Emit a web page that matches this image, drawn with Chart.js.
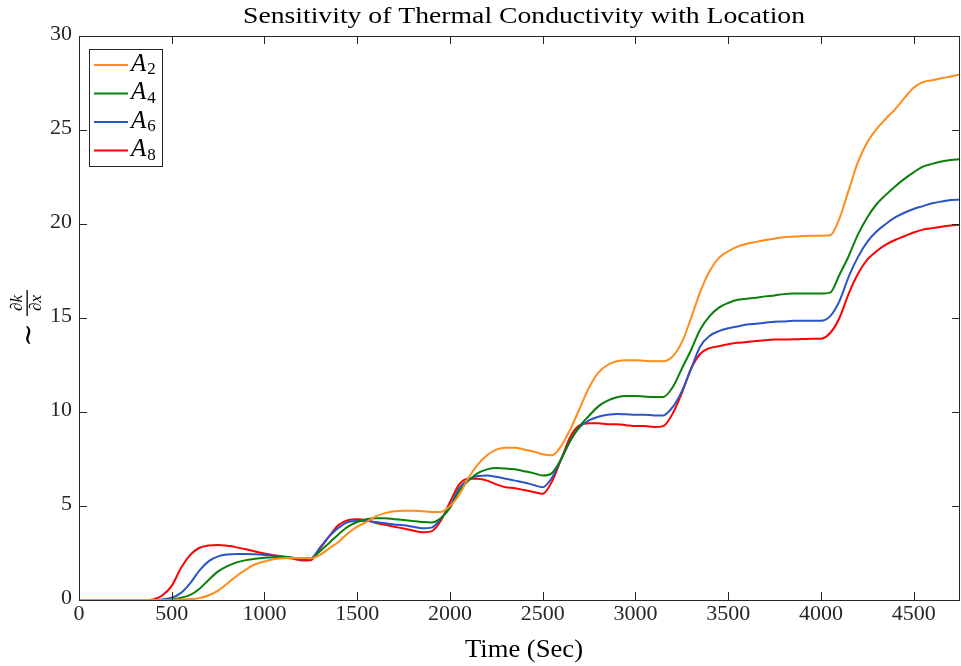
<!DOCTYPE html>
<html>
<head>
<meta charset="utf-8">
<script src="https://cdn.jsdelivr.net/npm/chart.js@4"></script>
<style>
  html, body { margin: 0; padding: 0; background: #fff; }
  #grafico { display: block; }
</style>
</head>
<body>
<canvas id="grafico" width="961" height="666"></canvas>
<script>
// DADOS (um valor a cada 50 s, de 0 a 4750 s)
var tempo = [];
for (var t = 0; t <= 4750; t += 50) tempo.push(t);

var nomes = ['A\u2082', 'A\u2084', 'A\u2086', 'A\u2088'];
var subscritos = ['2', '4', '6', '8'];
var cores = ['#ff8c1a', '#0a800a', '#2a55c8', '#ff0000'];

var serieA2 = [
    0, 0, 0, 0, 0, 0, 0, 0, 0, 0,
    0.01, 0.03, 0.05, 0.1, 0.25, 0.5, 0.88, 1.28, 1.62, 1.9,
    2.05, 2.17, 2.22, 2.24, 2.24, 2.22, 2.4, 2.75, 3.1, 3.55,
    3.9, 4.15, 4.45, 4.62, 4.72, 4.75, 4.75, 4.72, 4.68, 4.68,
    5.0, 5.6, 6.5, 7.2, 7.7, 8.0, 8.1, 8.1, 8.0, 7.9,
    7.75, 7.7, 8.2, 9.1, 10.2, 11.3, 12.1, 12.5, 12.7, 12.75,
    12.75, 12.72, 12.7, 12.7, 12.95, 13.7, 15.0, 16.4, 17.5, 18.2,
    18.55, 18.8, 18.95, 19.05, 19.15, 19.22, 19.3, 19.33, 19.36, 19.38,
    19.38, 19.4, 20.3, 21.8, 23.3, 24.35, 25.05, 25.6, 26.1, 26.7,
    27.25, 27.55, 27.65, 27.75, 27.85, 27.95];

var serieA4 = [
    0, 0, 0, 0, 0, 0, 0, 0, 0, 0,
    0.03, 0.12, 0.27, 0.6, 1.08, 1.52, 1.8, 2.0, 2.12, 2.2,
    2.25, 2.27, 2.27, 2.25, 2.22, 2.2, 2.6, 3.05, 3.5, 3.9,
    4.15, 4.3, 4.35, 4.35, 4.3, 4.25, 4.2, 4.15, 4.12, 4.35,
    4.9, 5.8, 6.35, 6.75, 6.95, 7.02, 7.0, 6.95, 6.85, 6.75,
    6.62, 6.75, 7.5, 8.5, 9.25, 9.8, 10.3, 10.6, 10.78, 10.85,
    10.85, 10.82, 10.8, 10.8, 11.3, 12.3, 13.3, 14.4, 15.1, 15.55,
    15.8, 15.97, 16.03, 16.08, 16.15, 16.2, 16.27, 16.3, 16.3, 16.3,
    16.3, 16.35, 17.3, 18.3, 19.45, 20.35, 21.05, 21.55, 22.0, 22.4,
    22.75, 23.05, 23.2, 23.32, 23.4, 23.45];

var serieA6 = [
    0, 0, 0, 0, 0, 0, 0, 0, 0, 0.03,
    0.12, 0.38, 0.9, 1.58, 2.07, 2.32, 2.42, 2.45, 2.45, 2.43,
    2.4, 2.36, 2.32, 2.25, 2.15, 2.2, 2.8, 3.4, 3.85, 4.15,
    4.2, 4.2, 4.15, 4.08, 4.02, 3.98, 3.9, 3.82, 3.85, 4.3,
    5.0, 5.95, 6.4, 6.6, 6.62, 6.55, 6.45, 6.35, 6.25, 6.12,
    6.0, 6.5, 7.5, 8.5, 9.2, 9.55, 9.75, 9.85, 9.9, 9.88,
    9.85, 9.85, 9.82, 9.82, 10.25, 11.1, 12.3, 13.5, 14.05, 14.3,
    14.45, 14.55, 14.65, 14.7, 14.75, 14.8, 14.82, 14.85, 14.85, 14.85,
    14.85, 15.1, 15.9, 17.2, 18.25, 19.05, 19.6, 20.0, 20.35, 20.6,
    20.8, 20.95, 21.1, 21.2, 21.28, 21.3];

var serieA8 = [
    0, 0, 0, 0, 0, 0, 0, 0, 0.03, 0.25,
    0.75, 1.7, 2.4, 2.78, 2.9, 2.93, 2.88, 2.8, 2.7, 2.58,
    2.47, 2.38, 2.3, 2.2, 2.1, 2.12, 2.75, 3.4, 4.0, 4.25,
    4.3, 4.25, 4.1, 4.0, 3.9, 3.8, 3.7, 3.6, 3.65, 4.2,
    5.2, 6.15, 6.45, 6.45, 6.35, 6.15, 6.0, 5.95, 5.85, 5.75,
    5.65, 6.3, 7.5, 8.7, 9.3, 9.4, 9.4, 9.35, 9.35, 9.3,
    9.25, 9.25, 9.2, 9.25, 9.9, 11.0, 12.3, 13.1, 13.4, 13.5,
    13.6, 13.68, 13.72, 13.78, 13.82, 13.85, 13.85, 13.87, 13.88, 13.9,
    13.9, 14.2, 15.0, 16.3, 17.35, 18.1, 18.55, 18.9, 19.15, 19.35,
    19.55, 19.7, 19.78, 19.85, 19.92, 19.95];

var ticksX = [0, 500, 1000, 1500, 2000, 2500, 3000, 3500, 4000, 4500];
var ticksY = [0, 5, 10, 15, 20, 25, 30];

var titulo = 'Sensitivity of Thermal Conductivity with Location';
var rotuloX = 'Time (Sec)';

var fonte = '"Liberation Serif", "DejaVu Serif", serif';

function pontos(valores) {
    return tempo.map(function (x, i) { return { x: x, y: valores[i] }; });
}

var series = [serieA2, serieA4, serieA6, serieA8];
var datasets = series.map(function (s, i) {
    return {
        label: nomes[i],
        data: pontos(s),
        borderColor: cores[i],
        backgroundColor: cores[i],
        borderWidth: 2,
        pointRadius: 0,
        cubicInterpolationMode: 'monotone'
    };
});

// texto esticado na horizontal (a fonte do original e mais larga)
function textoLargo(ctx, txt, x, y, largura) {
    var w = ctx.measureText(txt).width;
    ctx.save();
    ctx.translate(x, y);
    ctx.scale(largura / w, 1);
    ctx.textAlign = 'center';
    ctx.fillText(txt, 0, 0);
    ctx.restore();
}

// desenha caixa, ticks para dentro, titulo, rotulos e legenda
var estiloMatlab = {
    id: 'estiloMatlab',
    afterDraw: function (chart) {
        var ctx = chart.ctx;
        var area = chart.chartArea;
        var sx = chart.scales.x;
        var sy = chart.scales.y;
        ctx.save();

        // caixa
        ctx.strokeStyle = '#262626';
        ctx.lineWidth = 1;
        ctx.strokeRect(Math.round(area.left) + 0.5, Math.round(area.top) + 0.5,
            Math.round(area.right - area.left) - 1, Math.round(area.bottom - area.top));

        // ticks
        var tam = 8;
        ctx.beginPath();
        ticksX.forEach(function (v) {
            var px = Math.round(sx.getPixelForValue(v)) + 0.5;
            ctx.moveTo(px, area.bottom); ctx.lineTo(px, area.bottom - tam);
            ctx.moveTo(px, area.top); ctx.lineTo(px, area.top + tam);
        });
        ticksY.forEach(function (v) {
            var py = Math.round(sy.getPixelForValue(v)) + 0.5;
            ctx.moveTo(area.left, py); ctx.lineTo(area.left + tam, py);
            ctx.moveTo(area.right, py); ctx.lineTo(area.right - tam, py);
        });
        ctx.stroke();

        // rotulos dos ticks
        ctx.fillStyle = '#262626';
        ctx.font = '22px ' + fonte;
        ctx.textAlign = 'center';
        ctx.textBaseline = 'middle';
        ticksX.forEach(function (v) {
            ctx.fillText(String(v), sx.getPixelForValue(v), area.bottom + 14);
        });
        ctx.textAlign = 'right';
        ticksY.forEach(function (v) {
            ctx.fillText(String(v), area.left - 7, sy.getPixelForValue(v) - 2);
        });

        // titulo
        ctx.fillStyle = '#000';
        ctx.font = '24px ' + fonte;
        textoLargo(ctx, titulo, 524, 17, 562);

        // rotulo x
        ctx.font = '25px ' + fonte;
        textoLargo(ctx, rotuloX, 524, 650, 118);

        // rotulo y:  ~ dk/dx  (girado)
        ctx.save();
        ctx.translate(27, 318);
        ctx.rotate(-Math.PI / 2);
        ctx.font = '28px ' + fonte;
        ctx.textAlign = 'center';
        ctx.fillText('\u223C', -17, 3);
        ctx.font = 'italic 17px ' + fonte;
        ctx.fillText('\u2202k', 15, -9);
        ctx.fillText('\u2202x', 15, 10);
        ctx.fillRect(2, -0.5, 26, 1.3);
        ctx.restore();

        // legenda
        var lx = 89, ly = 49, lw = 73, lh = 117;
        ctx.fillStyle = '#fff';
        ctx.fillRect(lx, ly, lw, lh);
        ctx.strokeStyle = '#262626';
        ctx.strokeRect(lx + 0.5, ly + 0.5, lw, lh);
        nomes.forEach(function (n, i) {
            var y = 65 + i * 28.5;
            ctx.strokeStyle = cores[i];
            ctx.lineWidth = 2;
            ctx.beginPath();
            ctx.moveTo(94, y); ctx.lineTo(128, y);
            ctx.stroke();
            ctx.fillStyle = '#000';
            ctx.textAlign = 'left';
            ctx.font = 'italic 25px ' + fonte;
            ctx.fillText('A', 131, y - 1);
            var w = ctx.measureText('A').width;
            ctx.font = '17px ' + fonte;
            ctx.fillText(subscritos[i], 131 + w + 1, y + 5);
        });

        ctx.restore();
    }
};

var grafico = new Chart(document.getElementById('grafico').getContext('2d'), {
    type: 'line',
    data: { datasets: datasets },
    options: {
        responsive: false,
        animation: false,
        layout: { padding: { top: 36, right: 1, left: 0, bottom: 0 } },
        scales: {
            x: {
                type: 'linear',
                min: 0,
                max: 4750,
                grid: { display: false },
                border: { display: false },
                ticks: { display: false },
                afterFit: function (s) { s.height = 66; }
            },
            y: {
                type: 'linear',
                min: 0,
                max: 30,
                grid: { display: false },
                border: { display: false },
                ticks: { display: false },
                afterFit: function (s) { s.width = 79; }
            }
        },
        plugins: {
            legend: { display: false },
            tooltip: { enabled: false }
        }
    },
    plugins: [estiloMatlab]
});
</script>
</body>
</html>
